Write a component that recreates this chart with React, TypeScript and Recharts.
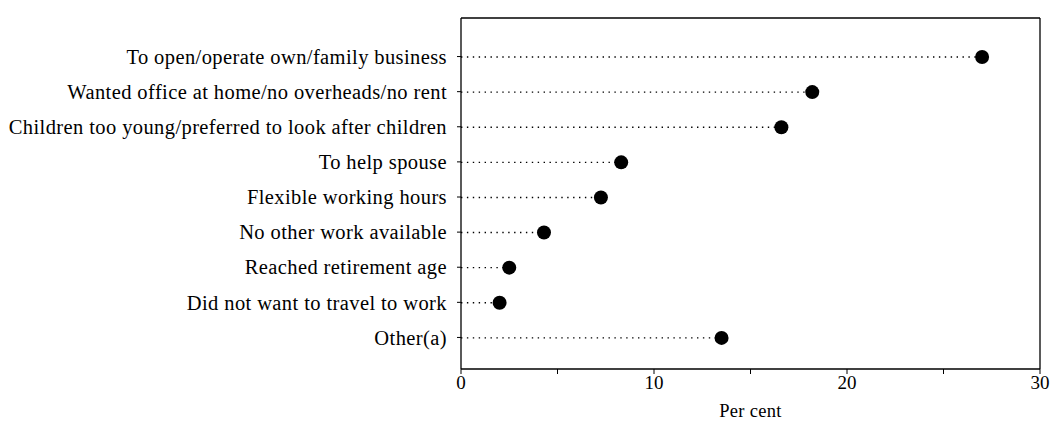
import { ComposedChart, Bar, XAxis, YAxis, ReferenceLine } from 'recharts';

const reasons = [
  'To open/operate own/family business',
  'Wanted office at home/no overheads/no rent',
  'Children too young/preferred to look after children',
  'To help spouse',
  'Flexible working hours',
  'No other work available',
  'Reached retirement age',
  'Did not want to travel to work',
  'Other(a)',
];

const percents = [27.0, 18.2, 16.6, 8.3, 7.25, 4.3, 2.5, 2.0, 13.5];

const xTicks = [0, 5, 10, 15, 20, 25, 30];

const data = reasons.map((name, i) => ({ name, value: percents[i] }));

const font = 'Liberation Serif, Times New Roman, serif';

// dotted leader from 0 to the value, with a filled dot at the end
function DotLeader(props: any) {
  const { x, y, width, height } = props;
  const cy = y + height / 2;
  return (
    <g>
      <line x1={x} y1={cy} x2={x + width} y2={cy} stroke="#000" strokeWidth={1.4} strokeDasharray="1.4 4.5" />
      <circle cx={x + width} cy={cy} r={7} fill="#000" />
    </g>
  );
}

export default function App() {
  return (
    <div style={{ width: 1051, height: 437 }}>
      <style>{'body { margin: 0; }'}</style>
      <ComposedChart
        width={1051}
        height={437}
        data={data}
        layout="vertical"
        margin={{ top: 8, right: 11, bottom: 8, left: 0 }}
      >
        <XAxis
          type="number"
          dataKey="value"
          domain={[0, 30]}
          ticks={xTicks}
          tickFormatter={(v: number) => (v % 10 === 0 ? String(v) : '')}
          axisLine={{ stroke: '#000', strokeWidth: 1.3 }}
          tickLine={{ stroke: '#000' }}
          tickSize={5}
          height={60}
          tick={{ fill: '#000', fontSize: 19, fontFamily: font }}
          label={{ value: 'Per cent', position: 'insideBottom', offset: 12, fill: '#000', fontSize: 18.5, fontFamily: font, letterSpacing: 0.3 }}
        />
        <XAxis
          xAxisId="top"
          orientation="top"
          type="number"
          domain={[0, 30]}
          ticks={xTicks}
          tick={false}
          axisLine={{ stroke: '#000', strokeWidth: 1.3 }}
          tickLine={{ stroke: '#000' }}
          tickSize={6}
          height={10}
        />
        <YAxis
          type="category"
          dataKey="name"
          width={461}
          padding={{ top: 21, bottom: 14 }}
          axisLine={{ stroke: '#000', strokeWidth: 1.3 }}
          tickLine={{ stroke: '#000' }}
          tickSize={4}
          tickMargin={10}
          interval={0}
          tick={{ fill: '#000', fontSize: 20.5, fontFamily: font, letterSpacing: 0.4 }}
        />
        <ReferenceLine x={30} stroke="#000" strokeWidth={1.3} />
        <Bar dataKey="value" barSize={14} shape={<DotLeader />} isAnimationActive={false} />
      </ComposedChart>
    </div>
  );
}
